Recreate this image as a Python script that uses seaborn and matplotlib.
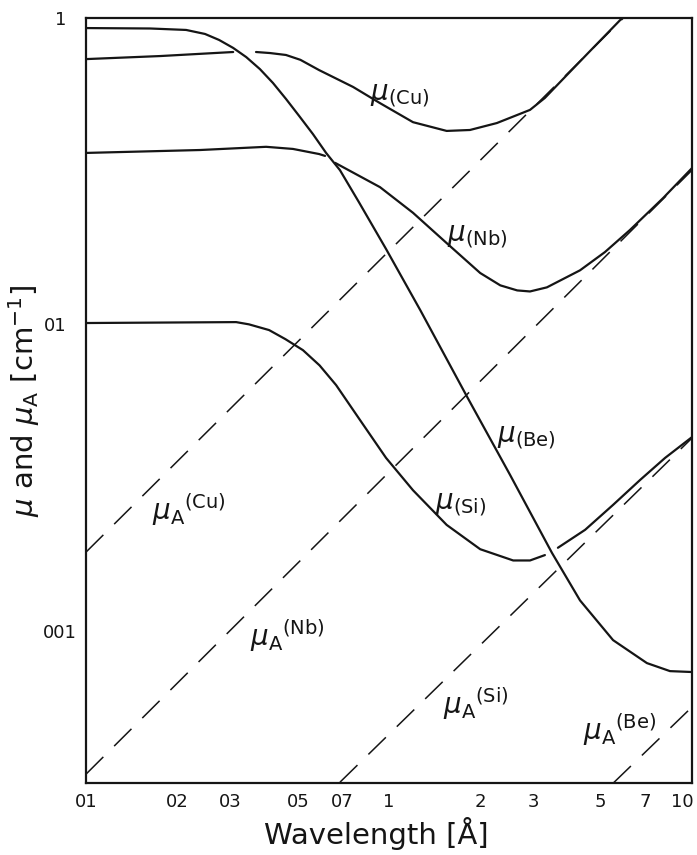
import numpy as np
import pandas as pd
import matplotlib
matplotlib.use("Agg")
import matplotlib.pyplot as plt
from matplotlib.ticker import NullLocator
from matplotlib.transforms import ScaledTranslation
import seaborn as sns

# ---- total attenuation coefficient mu (solid curves); None marks a break in a curve
be_lam = [0.100, 0.163, 0.214, 0.247, 0.275, 0.306, 0.338, 0.375, 0.414, 0.457, 0.505,
          0.561, 0.620, 0.689, 0.796, 0.978, 1.27, 1.82, 2.51, 3.45, 4.27, 5.49, 7.10,
          8.46, 10.0]
be_mu = [0.924, 0.921, 0.911, 0.884, 0.845, 0.796, 0.743, 0.679, 0.612, 0.543, 0.478,
         0.417, 0.362, 0.318, 0.250, 0.176, 0.111, 0.0575, 0.0323, 0.0180, 0.0126,
         0.00935, 0.00787, 0.00741, 0.00736]

cu_lam = [0.100, 0.176, 0.306, None, 0.364, 0.405, 0.457, 0.510, 0.588, 0.761, 0.934,
          1.20, 1.55, 1.85, 2.27, 2.92, 3.27, 3.67, 4.61, 5.88]
cu_mu = [0.732, 0.749, 0.772, None, 0.772, 0.766, 0.755, 0.728, 0.674, 0.594, 0.526,
         0.456, 0.427, 0.430, 0.453, 0.500, 0.547, 0.616, 0.778, 0.996]

nb_lam = [0.100, 0.238, 0.393, 0.482, 0.588, 0.615, None, 0.664, 0.934, 1.20, 1.55,
          2.00, 2.33, 2.65, 2.92, 3.32, 4.27, 5.16, 6.24, 8.03, 10.0]
nb_mu = [0.362, 0.370, 0.379, 0.373, 0.359, 0.354, None, 0.336, 0.280, 0.231, 0.184,
         0.147, 0.134, 0.129, 0.128, 0.132, 0.150, 0.172, 0.203, 0.258, 0.323]

si_lam = [0.100, 0.313, 0.345, 0.402, 0.455, 0.520, 0.590, 0.669, 0.802, 0.978, 1.20,
          1.55, 2.00, 2.57, 2.92, 3.27, None, 3.61, 4.44, 5.49, 6.74, 8.15, 10.0]
si_mu = [0.101, 0.1017, 0.1000, 0.0958, 0.0895, 0.0824, 0.0735, 0.0634, 0.0488,
         0.0367, 0.0288, 0.0222, 0.0185, 0.0170, 0.0170, 0.0177, None, 0.0187,
         0.0214, 0.0258, 0.0311, 0.0367, 0.0429]

# ---- absorption coefficient mu_A (dashed power-law lines)
cu_a_lam = [0.1, 5.96]
cu_a_mu = [0.0181, 1.0]
nb_a_lam = [0.1, 10.0]
nb_a_mu = [0.00342, 0.318]
si_a_lam = [0.689, 10.0]
si_a_mu = [0.00322, 0.0426]
be_a_lam = [5.5, 10.0]
be_a_mu = [0.0032, 0.00566]

x_ticks = [0.1, 0.2, 0.3, 0.5, 0.7, 1, 2, 3, 5, 7, 10]
x_tick_labels = ["01", "02", "03", "05", "07", "1", "2", "3", "5", "7", "10"]
y_ticks = [0.01, 0.1, 1]
y_tick_labels = ["001", "01", "1"]


def to_frame(name, lam, mu):
    rows, seg = [], 0
    for l, m in zip(lam, mu):
        if l is None:
            seg += 1
            continue
        rows.append({"curve": name, "seg": f"{name}-{seg}", "lam": l, "mu": m})
    return rows


solid = pd.DataFrame(
    to_frame("Be", be_lam, be_mu) + to_frame("Cu", cu_lam, cu_mu)
    + to_frame("Nb", nb_lam, nb_mu) + to_frame("Si", si_lam, si_mu)
)
dashed = pd.DataFrame(
    to_frame("A-Cu", cu_a_lam, cu_a_mu) + to_frame("A-Nb", nb_a_lam, nb_a_mu)
    + to_frame("A-Si", si_a_lam, si_a_mu) + to_frame("A-Be", be_a_lam, be_a_mu)
)

sns.set_theme(style="white")
plt.rcParams["font.family"] = ["DejaVu Sans"]
plt.rcParams["mathtext.fontset"] = "dejavusans"

ink = "#151515"
fig = plt.figure(figsize=(6.97, 8.55), dpi=100)
ax = fig.add_axes([0.1234, 0.0842, 0.8694, 0.8953])

sns.lineplot(data=solid, x="lam", y="mu", units="seg", estimator=None, sort=False,
             color=ink, lw=1.6, ax=ax)
sns.lineplot(data=dashed, x="lam", y="mu", units="seg", estimator=None, sort=False,
             color=ink, lw=1.1, linestyle=(0, (16, 10)), ax=ax)

ax.set_xscale("log")
ax.set_yscale("log")
ax.set_xlim(0.1, 10)
ax.set_ylim(0.0032, 1)

ax.set_xticks(x_ticks)
ax.set_xticklabels(x_tick_labels)
ax.set_yticks(y_ticks)
ax.set_yticklabels(y_tick_labels)
ax.xaxis.set_minor_locator(NullLocator())
ax.yaxis.set_minor_locator(NullLocator())
ax.tick_params(axis="x", direction="in", length=9, width=1.2, color=ink,
               labelsize=13, pad=7, labelcolor=ink)
ax.tick_params(axis="y", direction="in", length=10, width=1.2, color=ink,
               labelsize=13, pad=14, labelcolor=ink)
for s in ax.spines.values():
    s.set_visible(True)
    s.set_color(ink)
    s.set_linewidth(1.6)

# last x label sits flush with the right frame; "001" sits a little closer to the axis
xl = ax.get_xticklabels()
xl[-1].set_horizontalalignment("right")
xl[-1].set_transform(xl[-1].get_transform() + ScaledTranslation(1 / 72, 0, fig.dpi_scale_trans))
yl = ax.get_yticklabels()
yl[0].set_transform(yl[0].get_transform() + ScaledTranslation(7 / 72, 0, fig.dpi_scale_trans))

ax.set_xlabel("Wavelength [Å]", fontsize=21, color=ink)
ax.xaxis.set_label_coords(0.4785, -0.045)
ax.xaxis.label.set_verticalalignment("top")
ax.set_ylabel(r"$\mu$ and $\mu_{\mathrm{A}}$ [cm$^{-1}$]", fontsize=21, color=ink)
ax.yaxis.set_label_coords(-0.072, 0.5)

# curve annotations
labels = [
    (0.4686, 0.8909, r"$\mu_{\mathrm{(Cu)}}$"),
    (0.5957, 0.7067, r"$\mu_{\mathrm{(Nb)}}$"),
    (0.6782, 0.4441, r"$\mu_{\mathrm{(Be)}}$"),
    (0.5759, 0.3566, r"$\mu_{\mathrm{(Si)}}$"),
    (0.1089, 0.3436, r"$\mu_{\mathrm{A}}{}^{\mathrm{(Cu)}}$"),
    (0.2706, 0.1796, r"$\mu_{\mathrm{A}}{}^{\mathrm{(Nb)}}$"),
    (0.5891, 0.0895, r"$\mu_{\mathrm{A}}{}^{\mathrm{(Si)}}$"),
    (0.8201, 0.0568, r"$\mu_{\mathrm{A}}{}^{\mathrm{(Be)}}$"),
]
for fx, fy, txt in labels:
    ax.text(fx, fy, txt, transform=ax.transAxes, fontsize=20, color=ink,
            ha="left", va="baseline")

fig.savefig("out.png", dpi=100, facecolor="white")
